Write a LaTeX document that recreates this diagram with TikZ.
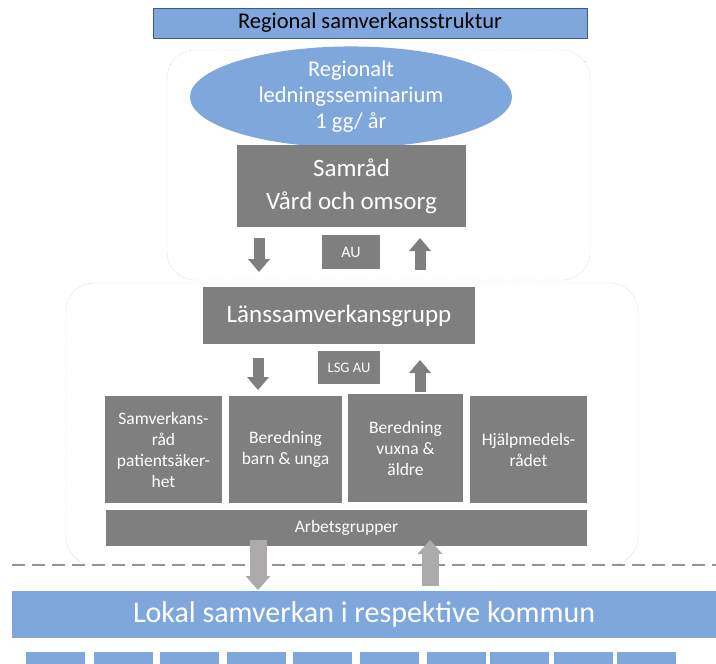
\documentclass[tikz,border=0pt]{standalone}
\usepackage{fontspec}
\setmainfont{Carlito}
\usetikzlibrary{arrows.meta,shapes.geometric}
\definecolor{lsblue}{HTML}{7FA7DC}
\definecolor{lsdark}{HTML}{3B5A8A}
\definecolor{lsgray}{HTML}{7F7F7F}
\definecolor{lslight}{HTML}{ADABAA}
\tikzset{
  graybox/.style={fill=lsgray, text=white, align=center, inner sep=0pt},
  bluebox/.style={fill=lsblue, text=white, align=center, inner sep=0pt},
  roundframe/.style={draw=black!30, densely dotted, rounded corners=28pt},
  darkarrow/.style={draw=lsgray, line width=11pt, -{Triangle[width=22pt,length=13pt,line width=0pt]}},
  lightarrow/.style={draw=lslight, line width=17pt, -{Triangle[width=25pt,length=14pt,line width=0pt]}},
}

\begin{document}
\begin{tikzpicture}[x=1pt,y=-1pt]
  %%%%% START %%%%%
  \useasboundingbox (0,0) rectangle (716,664);

  % title
  \node[fill=lsblue, draw=lsdark, minimum width=434pt, minimum height=30pt, inner sep=0pt,
        font=\fontsize{22.5}{26}\selectfont] (title) at (370,23) {Regional samverkansstruktur};

  % frames
  \draw[roundframe] (167,50) rectangle (590,280);
  \draw[roundframe] (66,283) rectangle (638,565);

  % regional level
  \node[ellipse, bluebox, minimum width=322pt, minimum height=68pt,
        font=\fontsize{22.5}{26}\selectfont] (seminar) at (351,97) {Regionalt\\ledningsseminarium\\1 gg/ år};
  \node[graybox, minimum width=229pt, minimum height=82pt,
        font=\fontsize{25}{33}\selectfont] (samrad) at (351.5,186) {Samråd\\Vård och omsorg};
  \node[graybox, minimum width=58pt, minimum height=34pt,
        font=\fontsize{16}{18}\selectfont] (au) at (351,252) {AU};

  \coordinate (sd1) at (259,238); \coordinate (sd2) at (259,272);
  \coordinate (su1) at (420,270); \coordinate (su2) at (420,238);
  \draw[darkarrow] (sd1) -- (sd2);
  \draw[darkarrow] (su1) -- (su2);

  % county level
  \node[graybox, minimum width=272pt, minimum height=57pt,
        font=\fontsize{25}{30}\selectfont] (lans) at (339,315.5) {Länssamverkansgrupp};
  \node[graybox, minimum width=62pt, minimum height=33pt,
        font=\fontsize{14.5}{17}\selectfont] (lsgau) at (349,367.5) {LSG AU};

  \coordinate (ld1) at (258,358); \coordinate (ld2) at (258,390);
  \coordinate (lu1) at (420,392); \coordinate (lu2) at (420,360);
  \draw[darkarrow] (ld1) -- (ld2);
  \draw[darkarrow] (lu1) -- (lu2);

  \node[graybox, minimum width=117pt, minimum height=107pt,
        font=\fontsize{17.5}{21}\selectfont] (patsak) at (163.5,449.5) {Samverkans-\\råd\\patientsäker-\\het};
  \node[graybox, minimum width=113pt, minimum height=107pt,
        font=\fontsize{17.5}{21}\selectfont] (barn) at (285.5,449.5) {Beredning\\barn \& unga};
  \node[graybox, minimum width=115pt, minimum height=108pt,
        font=\fontsize{17.5}{21}\selectfont] (vuxna) at (405.5,448) {Beredning\\vuxna \&\\äldre};
  \node[graybox, minimum width=117pt, minimum height=107pt,
        font=\fontsize{17.5}{21}\selectfont] (hjalp) at (528.5,449.5) {Hjälpmedels-\\rådet};
  \node[graybox, minimum width=481pt, minimum height=36pt,
        font=\fontsize{17.5}{20}\selectfont] (arbets) at (346.5,528) {Arbetsgrupper};

  % border line
  \coordinate (gl) at (12,565); \coordinate (gr) at (716,565);
  \draw[draw=black!42, line width=2.5pt, dash pattern=on 13pt off 7pt] (gl) -- (gr);

  % local level
  \node[bluebox, minimum width=704pt, minimum height=47pt,
        font=\fontsize{30}{34}\selectfont] (lokal) at (364,614.5) {Lokal samverkan i respektive kommun};

  \coordinate (bd1) at (258,540); \coordinate (bd2) at (258,590);
  \coordinate (bu1) at (430,586); \coordinate (bu2) at (430,540);
  \draw[lightarrow] (bd1) -- (bd2);
  \draw[lightarrow] (bu1) -- (bu2);

  \foreach \xa in {26,94,160,227,293,360,427,490,554,617}
    \node[bluebox, anchor=north west, minimum width=59pt, minimum height=12pt] (kommun\xa) at (\xa,652) {};
  %%%%% END %%%%%
\end{tikzpicture}
\end{document}
